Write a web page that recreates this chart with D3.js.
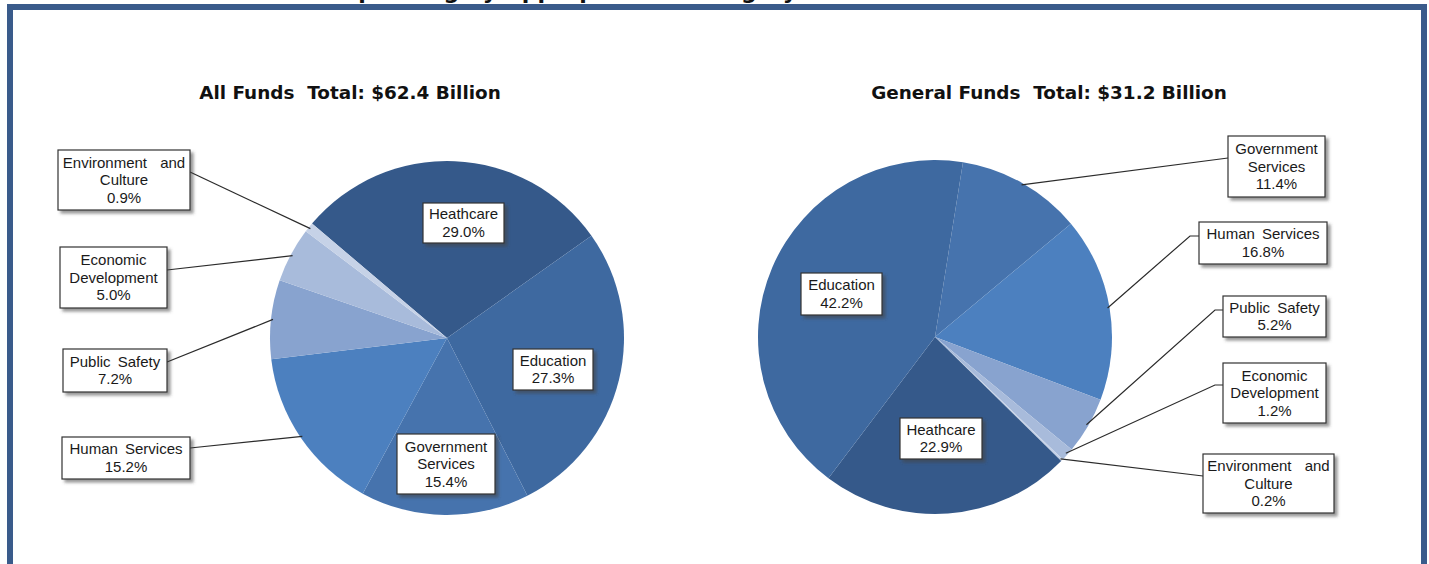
<!DOCTYPE html>
<html>
<head>
<meta charset="utf-8">
<script src="https://cdn.jsdelivr.net/npm/d3@7"></script>
<style>
  html, body { margin: 0; padding: 0; background: #ffffff; }
  svg { display: block; }
</style>
</head>
<body>
<svg id="chart" width="1429" height="564"></svg>
<script>
// ---- Data ---------------------------------------------------------------
const allFundsCategories = ["Heathcare", "Education", "Government Services", "Human Services",
                            "Public Safety", "Economic Development", "Environment and Culture"];
const allFundsShares = [29.0, 27.3, 15.4, 15.2, 7.2, 5.0, 0.9];

const generalFundsCategories = ["Government Services", "Human Services", "Public Safety",
                                "Economic Development", "Environment and Culture", "Heathcare", "Education"];
const generalFundsShares = [11.4, 16.8, 5.2, 1.2, 0.2, 22.9, 42.2];

const pieTitles = ["All Funds  Total: $62.4 Billion", "General Funds  Total: $31.2 Billion"];
const pageTitle = "Spending by Appropriation Category: All Funds and General Funds";

// ---- Styling / layout ---------------------------------------------------
const sliceColor = {
  "Heathcare": "#35598a",
  "Education": "#3e69a0",
  "Government Services": "#4673ad",
  "Human Services": "#4c80bf",
  "Public Safety": "#88a3cf",
  "Economic Development": "#a8bbdb",
  "Environment and Culture": "#c6d2e7"
};

const labelLines = {
  "Heathcare": ["Heathcare"],
  "Education": ["Education"],
  "Government Services": ["Government", "Services"],
  "Human Services": ["Human Services"],
  "Public Safety": ["Public Safety"],
  "Economic Development": ["Economic", "Development"],
  "Environment and Culture": ["Environment and", "Culture"]
};

const pies = [
  {
    categories: allFundsCategories, values: allFundsShares, title: pieTitles[0],
    cx: 447, cy: 338, r: 177, titleX: 350, startDeg: -49.7,
    boxes: {
      "Environment and Culture": { x: 58, y: 150, w: 132, h: 60, from: [190, 172] },
      "Economic Development":    { x: 60, y: 247, w: 107, h: 61, from: [167, 270] },
      "Public Safety":           { x: 63, y: 349, w: 104, h: 43, from: [167, 362] },
      "Human Services":          { x: 62, y: 437, w: 128, h: 42, from: [190, 448] },
      "Heathcare":               { x: 423, y: 203, w: 81, h: 40 },
      "Education":               { x: 513, y: 349, w: 80, h: 41 },
      "Government Services":     { x: 397, y: 434, w: 98, h: 60 }
    }
  },
  {
    categories: generalFundsCategories, values: generalFundsShares, title: pieTitles[1],
    cx: 935, cy: 337, r: 177, titleX: 1049, startDeg: 9.1,
    boxes: {
      "Education":               { x: 801, y: 273, w: 81, h: 42 },
      "Heathcare":               { x: 900, y: 418, w: 82, h: 41 },
      "Government Services":     { x: 1228, y: 136, w: 97, h: 61, from: [1228, 158] },
      "Human Services":          { x: 1199, y: 222, w: 128, h: 42, from: [1199, 236], elbow: [1190, 236] },
      "Public Safety":           { x: 1223, y: 296, w: 103, h: 41, from: [1223, 310], elbow: [1215, 310] },
      "Economic Development":    { x: 1223, y: 363, w: 103, h: 60, from: [1223, 385], elbow: [1215, 385] },
      "Environment and Culture": { x: 1203, y: 454, w: 131, h: 59, from: [1203, 476] }
    }
  }
];

const svg = d3.select("#chart");

// drop shadow used by the label boxes
const defs = svg.append("defs");
const shadow = defs.append("filter").attr("id", "boxShadow")
  .attr("x", "-20%").attr("y", "-20%").attr("width", "150%").attr("height", "160%");
shadow.append("feDropShadow")
  .attr("dx", 3).attr("dy", 3).attr("stdDeviation", 1.8)
  .attr("flood-color", "#444").attr("flood-opacity", 0.55);

// page title (mostly above the visible area) and slide frame
svg.append("text")
  .attr("x", 755).attr("y", -1)
  .attr("text-anchor", "middle")
  .attr("font-family", "DejaVu Sans, sans-serif")
  .attr("font-weight", "bold").attr("font-size", 22)
  .attr("fill", "#111")
  .text(pageTitle);

const frameColor = "#3a5b8b";
svg.append("rect").attr("x", 7).attr("y", 4).attr("width", 1420).attr("height", 6).attr("fill", frameColor);
svg.append("rect").attr("x", 7).attr("y", 4).attr("width", 6).attr("height", 560).attr("fill", frameColor);
svg.append("rect").attr("x", 1421).attr("y", 4).attr("width", 6).attr("height", 560).attr("fill", frameColor);

const fmt = v => d3.format(".1f")(v) + "%";

pies.forEach(p => {
  const data = p.categories.map((c, i) => ({ category: c, value: p.values[i] }));
  const start = p.startDeg * Math.PI / 180;
  const pie = d3.pie().sort(null).value(d => d.value)
    .startAngle(start).endAngle(start + 2 * Math.PI);
  const arcs = pie(data);
  const arc = d3.arc().innerRadius(0).outerRadius(p.r);
  const rim = d3.arc().innerRadius(p.r - 2).outerRadius(p.r - 2);

  // chart title
  svg.append("text")
    .attr("x", p.titleX).attr("y", 99)
    .attr("text-anchor", "middle")
    .attr("font-family", "DejaVu Sans, sans-serif")
    .attr("font-weight", "bold").attr("font-size", 18.4)
    .attr("fill", "#111")
    .style("white-space", "pre")
    .text(p.title);

  const g = svg.append("g").attr("transform", `translate(${p.cx},${p.cy})`);
  g.selectAll("path.slice").data(arcs).join("path")
    .attr("class", "slice")
    .attr("d", arc)
    .attr("fill", d => sliceColor[d.data.category]);

  // leader lines for the outside labels
  const lg = svg.append("g");
  arcs.forEach(a => {
    const b = p.boxes[a.data.category];
    if (!b.from) return;
    const [ex, ey] = rim.centroid(a);
    const pts = [[p.cx + ex, p.cy + ey]];
    if (b.elbow) pts.push(b.elbow);
    pts.push(b.from);
    lg.append("path")
      .attr("d", d3.line()(pts))
      .attr("fill", "none")
      .attr("stroke", "#2b2b2b")
      .attr("stroke-width", 1.2);
  });

  // label boxes
  arcs.forEach(a => {
    const cat = a.data.category;
    const b = p.boxes[cat];
    const lines = labelLines[cat].concat([fmt(a.data.value)]);
    const bg = svg.append("g");
    bg.append("rect")
      .attr("x", b.x).attr("y", b.y).attr("width", b.w).attr("height", b.h)
      .attr("fill", "#ffffff")
      .attr("stroke", "#333")
      .attr("stroke-width", 1.2)
      .attr("filter", "url(#boxShadow)");
    const lh = 17.5;
    lines.forEach((t, i) => {
      bg.append("text")
        .attr("x", b.x + b.w / 2)
        .attr("y", b.y + b.h / 2 + (i - (lines.length - 1) / 2) * lh + 5)
        .attr("text-anchor", "middle")
        .attr("font-family", "Liberation Sans, Arial, sans-serif")
        .attr("font-size", 15)
        .attr("word-spacing", t === "Environment and" ? 9 : 3)
        .attr("fill", "#1a1a1a")
        .text(t);
    });
  });
});
</script>
</body>
</html>
